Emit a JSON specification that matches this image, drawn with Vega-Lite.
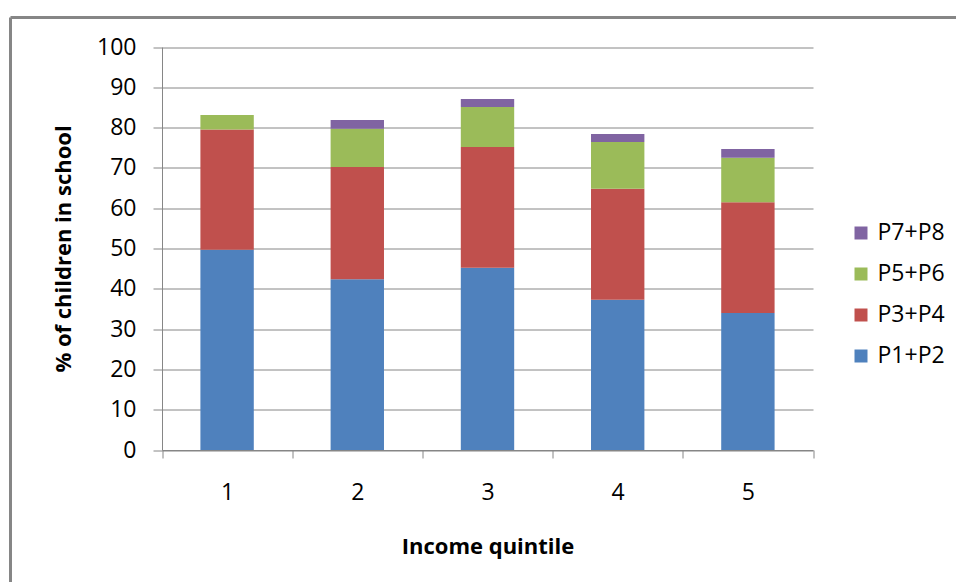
{
  "$schema": "https://vega.github.io/schema/vega-lite/v6.json",
  "width": 945.5,
  "height": 564.5,
  "padding": {"left": 10.5, "top": 17.5, "right": 0, "bottom": 0},
  "autosize": {"type": "none"},
  "background": "white",
  "config": {
    "font": "Open Sans",
    "view": {
      "stroke": "#868686",
      "strokeWidth": 3,
      "strokeDash": [945.5, 1510, 564.5, 0]
    },
    "axis": {
      "domainColor": "#868686",
      "tickColor": "#868686",
      "gridColor": "#868686",
      "labelColor": "#000000",
      "titleColor": "#000000",
      "labelFont": "Open Sans",
      "titleFont": "Open Sans",
      "labelFontSize": 23,
      "titleFontSize": 22,
      "titleFontWeight": "bold"
    }
  },
  "data": {
    "values": [
      {"quintile": "1", "level": "P1+P2", "pct": 49.7},
      {"quintile": "1", "level": "P3+P4", "pct": 29.8},
      {"quintile": "1", "level": "P5+P6", "pct": 3.6},
      {"quintile": "2", "level": "P1+P2", "pct": 42.4},
      {"quintile": "2", "level": "P3+P4", "pct": 27.8},
      {"quintile": "2", "level": "P5+P6", "pct": 9.5},
      {"quintile": "2", "level": "P7+P8", "pct": 2.2},
      {"quintile": "3", "level": "P1+P2", "pct": 45.2},
      {"quintile": "3", "level": "P3+P4", "pct": 30.0},
      {"quintile": "3", "level": "P5+P6", "pct": 9.9},
      {"quintile": "3", "level": "P7+P8", "pct": 2.0},
      {"quintile": "4", "level": "P1+P2", "pct": 37.3},
      {"quintile": "4", "level": "P3+P4", "pct": 27.5},
      {"quintile": "4", "level": "P5+P6", "pct": 11.6},
      {"quintile": "4", "level": "P7+P8", "pct": 2.0},
      {"quintile": "5", "level": "P1+P2", "pct": 34.0},
      {"quintile": "5", "level": "P3+P4", "pct": 27.5},
      {"quintile": "5", "level": "P5+P6", "pct": 11.0},
      {"quintile": "5", "level": "P7+P8", "pct": 2.2}
    ]
  },
  "mark": {"type": "bar", "width": {"band": 0.41}},
  "encoding": {
    "x": {
      "field": "quintile",
      "type": "ordinal",
      "title": "Income quintile",
      "scale": {"range": [151.5, 802.5], "paddingInner": 0, "paddingOuter": 0},
      "axis": {
        "offset": -132,
        "labelAngle": 0,
        "tickBand": "extent",
        "tickSize": 8,
        "labelPadding": 23,
        "grid": false,
        "titleY": 103,
        "titleBaseline": "alphabetic"
      }
    },
    "y": {
      "field": "pct",
      "type": "quantitative",
      "stack": "zero",
      "title": "% of children in school",
      "scale": {"domain": [0, 100], "range": [432.5, 29.5], "nice": false},
      "axis": {
        "offset": -151.5,
        "values": [0, 10, 20, 30, 40, 50, 60, 70, 80, 90, 100],
        "grid": true,
        "tickSize": 9,
        "labelPadding": 17,
        "titleAngle": 270,
        "titleX": -92,
        "titleBaseline": "alphabetic"
      }
    },
    "color": {
      "field": "level",
      "type": "nominal",
      "scale": {
        "domain": ["P1+P2", "P3+P4", "P5+P6", "P7+P8"],
        "range": ["#4F81BD", "#C0504D", "#9BBB59", "#8064A2"]
      },
      "legend": {
        "title": null,
        "values": ["P7+P8", "P5+P6", "P3+P4", "P1+P2"],
        "orient": "none",
        "legendX": 839,
        "legendY": 204,
        "padding": 0,
        "symbolType": "square",
        "symbolSize": 169,
        "symbolStrokeWidth": 0,
        "labelFontSize": 23,
        "labelFont": "Open Sans",
        "labelColor": "#000000",
        "labelOffset": 5,
        "rowPadding": 17
      }
    },
    "order": {"field": "level", "sort": "ascending"}
  }
}
